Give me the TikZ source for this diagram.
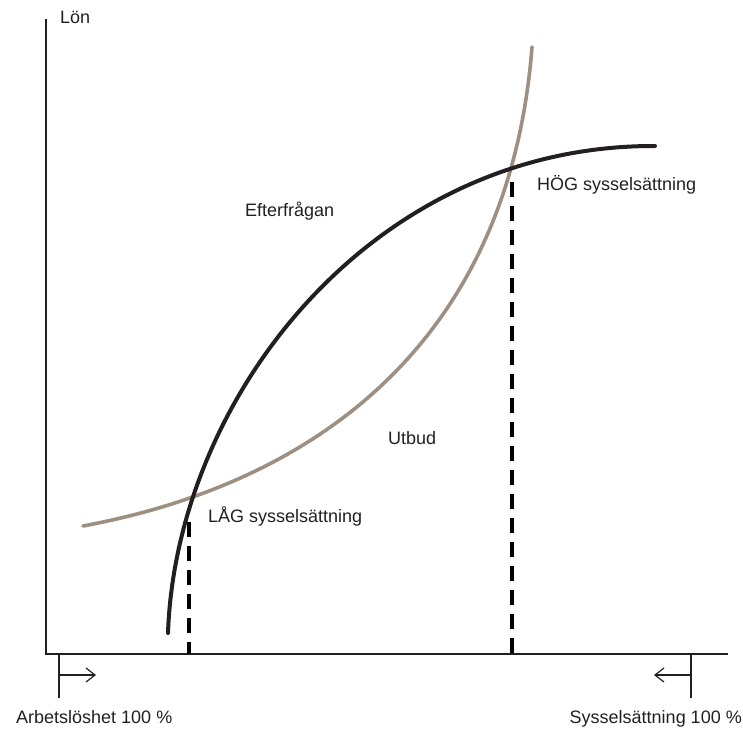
\documentclass[tikz,border=0pt]{standalone}
\usepackage{fontspec}
\setmainfont{Liberation Sans}
\usetikzlibrary{arrows.meta}
\definecolor{ink}{HTML}{231F20}
\definecolor{supplycol}{HTML}{9D8F82}
\tikzset{
  axis/.style={draw=ink, line width=1.3pt},
  demand/.style={draw=ink, line width=4pt, line cap=round},
  supply/.style={draw=supplycol, line width=3.6pt, line cap=round},
  guide/.style={draw=black, line width=4pt, dash pattern=on 15pt off 9pt},
  marker/.style={draw=ink, line width=1.2pt},
  markarrow/.style={draw=ink, line width=1.2pt, -{Straight Barb[length=9pt,width=14pt,line width=1.2pt]}},
  lbl/.style={font=\fontsize{18}{21}\selectfont, text=ink, inner sep=0pt},
}
\begin{document}
\begin{tikzpicture}[x=1pt,y=-1pt]
\useasboundingbox (0,0) rectangle (743,728);
% axes
\coordinate (ytop) at (46,19);
\coordinate (origin) at (46,654);
\coordinate (xend) at (728,654);
\draw[axis] (ytop) -- (origin) -- (xend);
% curves
\coordinate (s0) at (83,526);
\coordinate (s1) at (532,47);
\coordinate (d0) at (168,633);
\coordinate (d1) at (655,146);
\draw[supply] (s0) .. controls (330,480) and (510,330) .. (s1);
\draw[demand] (d0) .. controls (176,400) and (370,145) .. (d1);
% dashed guides
\coordinate (lowtop) at (189,522);
\coordinate (lowbot) at (189,654);
\coordinate (hightop) at (512,182);
\coordinate (highbot) at (512,654);
\draw[guide] (lowtop) -- (lowbot);
\draw[guide] (hightop) -- (highbot);
% markers
\coordinate (lm1) at (59,654);
\coordinate (lm2) at (59,698);
\coordinate (la1) at (59,675);
\coordinate (la2) at (96,675);
\coordinate (rm1) at (691,654);
\coordinate (rm2) at (691,698);
\coordinate (ra1) at (691,675);
\coordinate (ra2) at (654,675);
\draw[marker] (lm1) -- (lm2);
\draw[markarrow] (la1) -- (la2);
\draw[marker] (rm1) -- (rm2);
\draw[markarrow] (ra1) -- (ra2);
% labels
\node[lbl, anchor=base west] (lon) at (60,23) {Lön};
\node[lbl, anchor=base west] (eft) at (245,216) {Efterfrågan};
\node[lbl, anchor=base west] (hog) at (537,190) {HÖG sysselsättning};
\node[lbl, anchor=base west] (utb) at (388,444) {Utbud};
\node[lbl, anchor=base west] (lag) at (208,522) {LÅG sysselsättning};
\node[lbl, anchor=base west] (arb) at (16,723) {Arbetslöshet 100 \%};
\node[lbl, anchor=base east] (sys) at (742,723) {Sysselsättning 100 \%};
\end{tikzpicture}
\end{document}
